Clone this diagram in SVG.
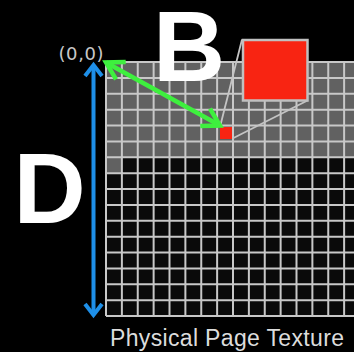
<svg xmlns="http://www.w3.org/2000/svg" width="354" height="352" viewBox="0 0 354 352">
  <defs>
    <style>
      .gridline { stroke: #c8c8c8; stroke-width: 2; fill: none; }
      .big { font-family: "Liberation Sans", Arial, sans-serif; font-weight: bold; font-size: 100px; fill: #ffffff; }
      .coord { font-family: "DejaVu Sans", sans-serif; font-size: 18px; fill: #c8c8c8; }
      .caption { font-family: "Liberation Sans", Arial, sans-serif; font-size: 23px; fill: #dcdcdc; }
      .green { stroke: #3ef03e; stroke-width: 4.5; fill: none; }
      .blue { stroke: #1e8fe8; stroke-width: 4; fill: none; }
      .lead { stroke: #c4c4c4; stroke-width: 1.8; fill: none; }
    </style>
    <marker id="ahGreen" markerUnits="userSpaceOnUse" markerWidth="40" markerHeight="40" refX="0" refY="0" viewBox="-25 -20 40 40" orient="auto-start-reverse" overflow="visible">
      <path d="M -17 -10 L 0 0 L -17 10" stroke="#3ef03e" stroke-width="4.5" fill="none" stroke-linejoin="miter"/>
    </marker>
    <marker id="ahBlue" markerUnits="userSpaceOnUse" markerWidth="40" markerHeight="40" refX="0" refY="0" viewBox="-25 -20 40 40" orient="auto-start-reverse" overflow="visible">
      <path d="M -11 -8.5 L 0 0 L -11 8.5" stroke="#1e8fe8" stroke-width="4" fill="none"/>
    </marker>
  </defs>

  <rect x="0" y="0" width="354" height="352" fill="#000000"/>

  <g id="grid">
    <rect x="106" y="62" width="250" height="254" fill="#0a0a0a"/>
    <rect x="106" y="62" width="250" height="95.25" fill="#616161"/>
    <rect x="106" y="157.25" width="15.875" height="15.875" fill="#616161"/>
    <path class="gridline" d="
      M106 62V316 M121.875 62V316 M137.75 62V316 M153.625 62V316 M169.5 62V316 M185.375 62V316
      M201.25 62V316 M217.125 62V316 M233 62V316 M248.875 62V316 M264.75 62V316 M280.625 62V316
      M296.5 62V316 M312.375 62V316 M328.25 62V316 M344.125 62V316
      M106 62H356 M106 77.875H356 M106 93.75H356 M106 109.625H356 M106 125.5H356 M106 141.375H356
      M106 157.25H356 M106 173.125H356 M106 189H356 M106 204.875H356 M106 220.75H356 M106 236.625H356
      M106 252.5H356 M106 268.375H356 M106 284.25H356 M106 300.125H356 M106 316H356"/>
  </g>

  <g id="page-detail">
    <line class="lead" x1="220" y1="127" x2="242" y2="39.5"/>
    <line class="lead" x1="232.5" y1="138.5" x2="307.5" y2="100.5"/>
    <rect id="page-small" x="220" y="127" width="12" height="12" fill="#f82412"/>
    <rect id="page-zoomed" x="243" y="40" width="64.5" height="60.5" fill="#f82412" stroke="#c0c0c0" stroke-width="2.5"/>
  </g>

  <g id="labels">
    <text class="big" x="153" y="81">B</text>
    <text class="big" x="13.5" y="223">D</text>
    <text class="coord" x="58.5" y="59.5" textLength="45" lengthAdjust="spacing">(0,0)</text>
    <text class="caption" x="110" y="346" textLength="234" lengthAdjust="spacing">Physical Page Texture</text>
  </g>

  <g id="connectors">
    <line class="green" x1="106" y1="62.5" x2="220" y2="125.5" marker-start="url(#ahGreen)" marker-end="url(#ahGreen)"/>
    <line class="blue" x1="93.5" y1="65" x2="93.5" y2="315" marker-start="url(#ahBlue)" marker-end="url(#ahBlue)"/>
  </g>
</svg>
